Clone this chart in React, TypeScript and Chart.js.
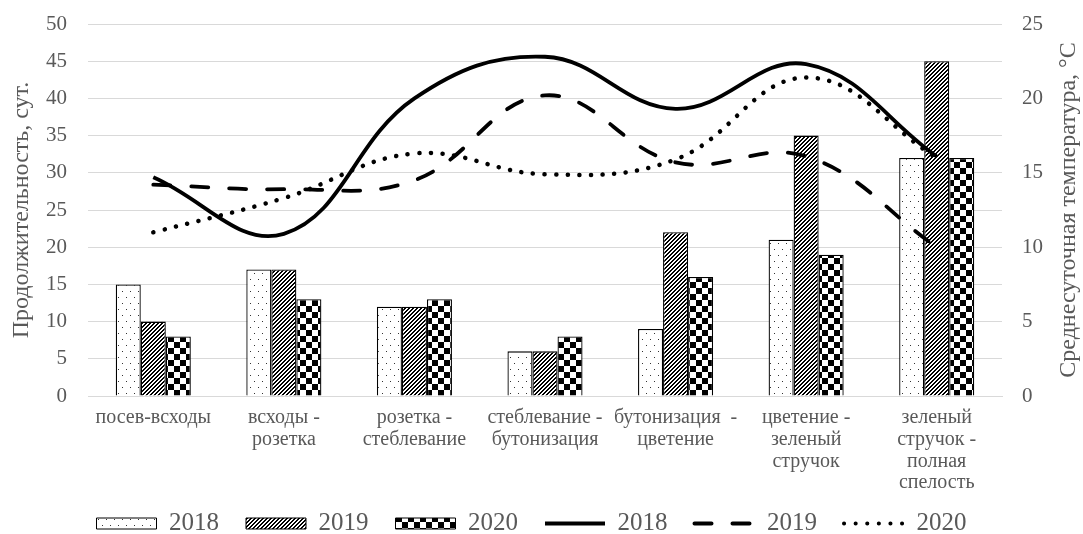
import React, { useEffect, useRef } from "react";
import { Chart, registerables } from "chart.js";

Chart.register(...registerables);

const categories: (string | string[])[] = [
  "посев-всходы",
  ["всходы -", "розетка"],
  ["розетка -", "стеблевание"],
  ["стеблевание -", "бутонизация"],
  ["бутонизация  -", "цветение"],
  ["цветение -", "зеленый", "стручок"],
  ["зеленый", "стручок -", "полная", "спелость"],
];

const seriesLabels = ["2018", "2019", "2020"];

const dur2018 = [15, 17, 12, 6, 9, 21, 32];
const dur2019 = [10, 17, 12, 6, 22, 35, 45];
const dur2020 = [8, 13, 13, 8, 16, 19, 32];

const temp2018 = [14.7, 10.9, 20.0, 22.8, 19.3, 22.3, 16.1];
const temp2019 = [14.2, 13.9, 14.5, 20.2, 15.7, 16.1, 10.0];
const temp2020 = [11.0, 13.3, 16.3, 14.9, 15.9, 21.4, 16.0];

const durTicks = [0, 5, 10, 15, 20, 25, 30, 35, 40, 45, 50];
const tempTicks = [0, 5, 10, 15, 20, 25];

const leftTitle = "Продолжительность, сут.";
const rightTitle = "Среднесуточная температура, °С";

const FONT = "'Liberation Serif', 'Times New Roman', serif";
const TEXT = "#595959";
const GRID = "#d9d9d9";

function makeTile(size: number, fn: (x: number, y: number) => boolean) {
  const c = document.createElement("canvas");
  c.width = size;
  c.height = size;
  const ctx = c.getContext("2d")!;
  const img = ctx.createImageData(size, size);
  for (let y = 0; y < size; y++) {
    for (let x = 0; x < size; x++) {
      const i = (y * size + x) * 4;
      const v = fn(x, y) ? 0 : 255;
      img.data[i] = v;
      img.data[i + 1] = v;
      img.data[i + 2] = v;
      img.data[i + 3] = 255;
    }
  }
  ctx.putImageData(img, 0, 0);
  return ctx.createPattern(c, "repeat")!;
}

function makeDots() {
  const c = document.createElement("canvas");
  c.width = 8;
  c.height = 12;
  const ctx = c.getContext("2d")!;
  ctx.fillStyle = "#fff";
  ctx.fillRect(0, 0, 8, 12);
  ctx.fillStyle = "#333";
  ctx.fillRect(2, 3, 1, 1);
  ctx.fillRect(6, 9, 1, 1);
  return ctx.createPattern(c, "repeat")!;
}

export default function App() {
  const ref = useRef<HTMLCanvasElement | null>(null);

  useEffect(() => {
    if (!ref.current) return;
    const dots = makeDots();
    const stripes = makeTile(4, (x, y) => (x + y) % 4 < 2);
    const checker = makeTile(12, (x, y) => (Math.floor(x / 6) + Math.floor(y / 6)) % 2 === 0);
    const patterns = [dots, stripes, checker];

    const durs = [dur2018, dur2019, dur2020];
    const temps = [temp2018, temp2019, temp2020];
    const dashes = [[], [17, 21], [0.1, 11.5]];

    const barSets = durs.map((d, i) => ({
      type: "bar" as const,
      label: seriesLabels[i],
      data: d,
      backgroundColor: patterns[i],
      borderColor: "#000",
      borderWidth: 1.3,
      yAxisID: "y",
      order: 1,
      categoryPercentage: 0.575,
      barPercentage: 1,
    }));
    const lineSets = temps.map((t, i) => ({
      type: "line" as const,
      label: seriesLabels[i],
      data: t,
      borderColor: "#000",
      backgroundColor: "transparent",
      borderWidth: i === 2 ? 4.5 : 3.8,
      borderDash: dashes[i],
      borderCapStyle: i === 0 ? ("butt" as const) : ("round" as const),
      tension: 0.4,
      pointRadius: 0,
      yAxisID: "y1",
      order: 0,
      fill: false,
    }));

    const extrasPlugin = {
      id: "extras",
      afterLayout(chart: any) {
        if (chart.legend) {
          chart.legend.left -= 10;
          chart.legend.right -= 10;
        }
      },
      afterDraw(chart: any) {
        const { ctx, chartArea } = chart;
        ctx.save();
        ctx.translate(1069, (chartArea.top + chartArea.bottom) / 2);
        ctx.rotate(-Math.PI / 2);
        ctx.font = `24px ${FONT}`;
        ctx.fillStyle = TEXT;
        ctx.textAlign = "center";
        ctx.textBaseline = "middle";
        ctx.fillText(rightTitle, 0, 0);
        ctx.restore();
      },
    };

    const chart = new Chart(ref.current, {
      type: "bar",
      data: {
        labels: categories as any,
        datasets: [...barSets, ...lineSets] as any,
      },
      plugins: [extrasPlugin],
      options: {
        animation: false,
        responsive: true,
        maintainAspectRatio: false,
        layout: { padding: { top: 24, bottom: -12, left: 0, right: 0 } },
        plugins: {
          tooltip: { enabled: false },
          legend: {
            position: "bottom",
            labels: {
              usePointStyle: true,
              pointStyleWidth: 60,
              boxHeight: 11,
              padding: 27,
              color: TEXT,
              font: { family: FONT, size: 25 },
              sort: (a: any, b: any) => a.datasetIndex - b.datasetIndex,
              generateLabels: (ch: any) =>
                ch.data.datasets.map((ds: any, i: number) => {
                  const isBar = ds.type === "bar";
                  return {
                    text: ds.label,
                    datasetIndex: i,
                    hidden: false,
                    fillStyle: isBar ? ds.backgroundColor : "transparent",
                    strokeStyle: "#000",
                    lineWidth: isBar ? 1 : 4,
                    lineDash: isBar ? [] : ds.borderDash,
                    lineCap: isBar ? "butt" : ds.borderCapStyle,
                    pointStyle: isBar ? "rect" : "line",
                    fontColor: TEXT,
                  };
                }),
            },
          },
        },
        scales: {
          x: {
            type: "category",
            grid: { display: false, drawTicks: false },
            border: { display: true, color: GRID },
            ticks: {
              color: TEXT,
              font: { family: FONT, size: 20, lineHeight: 1.085 },
              maxRotation: 0,
              minRotation: 0,
              autoSkip: false,
              padding: 11,
            },
            afterFit: (s: any) => {
              s.height = 88;
              s._computeLabelArea = () => undefined;
            },
          },
          y: {
            position: "left",
            min: durTicks[0],
            max: durTicks[durTicks.length - 1],
            afterBuildTicks: (s: any) => {
              s.ticks = durTicks.map((v) => ({ value: v }));
            },
            grid: { color: GRID, lineWidth: 1, drawTicks: false },
            border: { display: false },
            ticks: {
              color: TEXT,
              font: { family: FONT, size: 21 },
              padding: 21,
            },
            title: {
              display: true,
              text: leftTitle,
              color: TEXT,
              font: { family: FONT, size: 24 },
              padding: { top: 7, bottom: 0 },
            },
            afterFit: (s: any) => {
              s.width = 88;
              s.paddingTop = 12;
              s.paddingBottom = 12;
            },
          },
          y1: {
            position: "right",
            min: tempTicks[0],
            max: tempTicks[tempTicks.length - 1],
            afterBuildTicks: (s: any) => {
              s.ticks = tempTicks.map((v) => ({ value: v }));
            },
            grid: { drawOnChartArea: false, drawTicks: false },
            border: { display: false },
            ticks: {
              color: TEXT,
              font: { family: FONT, size: 21 },
              padding: 20,
            },
            afterFit: (s: any) => {
              s.width = 81;
              s.paddingTop = 12;
              s.paddingBottom = 12;
            },
          },
        },
      } as any,
    });

    return () => chart.destroy();
  }, []);

  return (
    <div style={{ position: "fixed", left: 0, top: 0, width: 1083, height: 534, background: "#fff" }}>
      <canvas ref={ref} />
    </div>
  );
}
